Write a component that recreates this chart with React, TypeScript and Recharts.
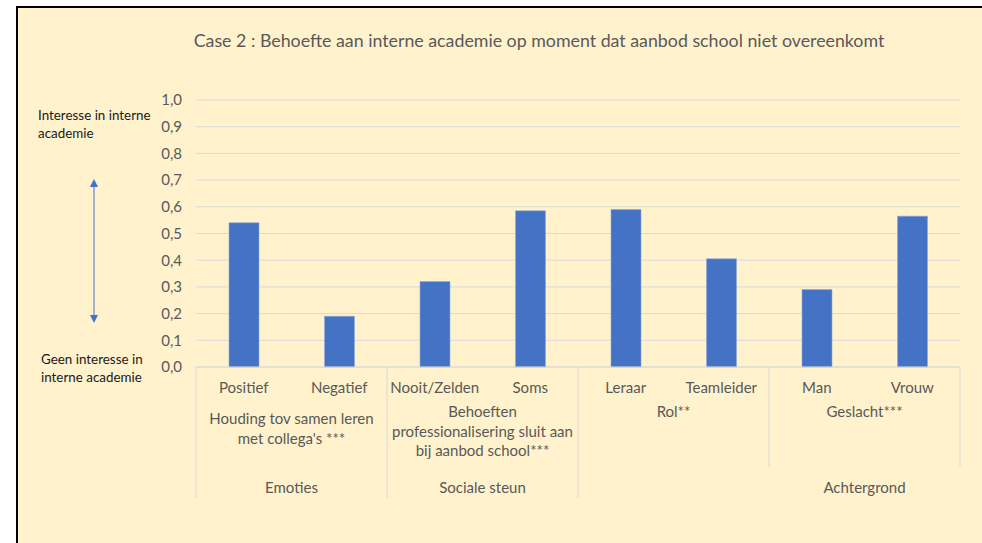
import { BarChart, Bar, XAxis, YAxis, CartesianGrid } from "recharts";

const categories = ["Positief", "Negatief", "Nooit/Zelden", "Soms", "Leraar", "Teamleider", "Man", "Vrouw"];
const values = [0.54, 0.19, 0.32, 0.585, 0.59, 0.405, 0.29, 0.565];
const yTicks = [0, 0.1, 0.2, 0.3, 0.4, 0.5, 0.6, 0.7, 0.8, 0.9, 1.0];

// second level of the category axis
const subgroups = [
  { lines: ["Houding tov samen leren", "met collega's ***"], start: 0, size: 2 },
  { lines: ["Behoeften", "professionalisering sluit aan", "bij aanbod school***"], start: 2, size: 2 },
  { lines: ["Rol**"], start: 4, size: 2 },
  { lines: ["Geslacht***"], start: 6, size: 2 },
];

// third level
const groups = [
  { label: "Emoties", start: 0, size: 2 },
  { label: "Sociale steun", start: 2, size: 2 },
  { label: "Achtergrond", start: 6, size: 2 },
];
const deepSeparators = [0, 2, 4];

const title = "Case 2 : Behoefte aan interne academie op moment dat aanbod school niet overeenkomt";
const topNote = ["Interesse in interne", "academie"];
const bottomNote = ["Geen interesse in", "interne academie"];

const data = categories.map((name, i) => ({ name, value: values[i] }));

const W = 982;
const H = 543;
const Y_AXIS_W = 60;
const MARGIN = { top: 100, right: 22, bottom: 26, left: 136 };
const X_AXIS_H = 150;
const BAND = (W - MARGIN.left - Y_AXIS_W - MARGIN.right) / categories.length;

const FONT = "Lato, 'Open Sans', sans-serif";
const TEXT = "#595959";
const LINE = "#D9D9D9";
const BLUE = "#4472C4";

function CategoryTick(props: any) {
  const { x, y, payload } = props;
  const i = payload.index;
  const left = x - BAND / 2;
  const sub = subgroups.find((s) => s.start === i);
  const grp = groups.find((g) => g.start === i);
  const last = i === categories.length - 1;
  const subStartY = sub && sub.lines.length === 2 ? y + 57 : y + 50;
  return (
    <g fontFamily={FONT}>
      <text x={x} y={y + 26} textAnchor="middle" fontSize={15} fill={TEXT}>
        {payload.value}
      </text>
      {sub && (
        <>
          <line x1={left} x2={left} y1={y} y2={y + (deepSeparators.includes(i) ? 131 : 100)} stroke={LINE} />
          {sub.lines.map((l, k) => (
            <text key={k} x={left + (sub.size * BAND) / 2} y={subStartY + k * 19.5} textAnchor="middle" fontSize={15} fill={TEXT}>
              {l}
            </text>
          ))}
        </>
      )}
      {grp && (
        <text x={left + (grp.size * BAND) / 2} y={y + 126} textAnchor="middle" fontSize={15} fill={TEXT}>
          {grp.label}
        </text>
      )}
      {last && <line x1={x + BAND / 2} x2={x + BAND / 2} y1={y} y2={y + 100} stroke={LINE} />}
    </g>
  );
}

export default function App() {
  return (
    <div style={{ position: "absolute", left: 0, top: 0, width: W, height: H, background: "#fff", overflow: "hidden" }}>
      <div
        style={{
          position: "absolute",
          left: 16,
          top: 6,
          right: 0,
          bottom: 0,
          background: "#FFF2CC",
          borderTop: "2px solid #000",
          borderLeft: "2px solid #000",
        }}
      />
      <div style={{ position: "absolute", left: 0, top: 0 }}>
        <BarChart width={W} height={H} data={data} margin={MARGIN}>
          <CartesianGrid vertical={false} stroke={LINE} />
          <YAxis
            width={Y_AXIS_W}
            domain={[0, 1]}
            ticks={yTicks}
            axisLine={false}
            tickLine={false}
            tickSize={0}
            tickMargin={14}
            tick={{ fontSize: 15, fill: TEXT, fontFamily: FONT }}
            tickFormatter={(v: number) => v.toFixed(1).replace(".", ",")}
          />
          <XAxis
            dataKey="name"
            height={X_AXIS_H}
            interval={0}
            axisLine={{ stroke: LINE }}
            tickLine={false}
            tickSize={0}
            tickMargin={0}
            tick={<CategoryTick />}
          />
          <Bar dataKey="value" fill={BLUE} stroke="#8FA9DA" strokeWidth={0.6} barSize={30} isAnimationActive={false} />
        </BarChart>
      </div>
      <svg width={W} height={H} style={{ position: "absolute", left: 0, top: 0, pointerEvents: "none" }} fontFamily={FONT}>
        <defs>
          <marker id="ah" markerWidth="8" markerHeight="8" refX="4" refY="4" orient="auto-start-reverse" markerUnits="userSpaceOnUse">
            <path d="M0,0 L8,4 L0,8 z" fill={BLUE} />
          </marker>
        </defs>
        <text x={539} y={47} textAnchor="middle" fontSize={17.8} fill={TEXT}>
          {title}
        </text>
        {topNote.map((t, k) => (
          <text key={t} x={38} y={120 + k * 17.5} fontSize={13.4} fill="#1a1a1a">
            {t}
          </text>
        ))}
        {bottomNote.map((t, k) => (
          <text key={t} x={41} y={364 + k * 18} fontSize={13.4} fill="#1a1a1a">
            {t}
          </text>
        ))}
        <line x1={94} y1={183} x2={94} y2={319} stroke={BLUE} strokeWidth={1} markerStart="url(#ah)" markerEnd="url(#ah)" />
      </svg>
    </div>
  );
}
